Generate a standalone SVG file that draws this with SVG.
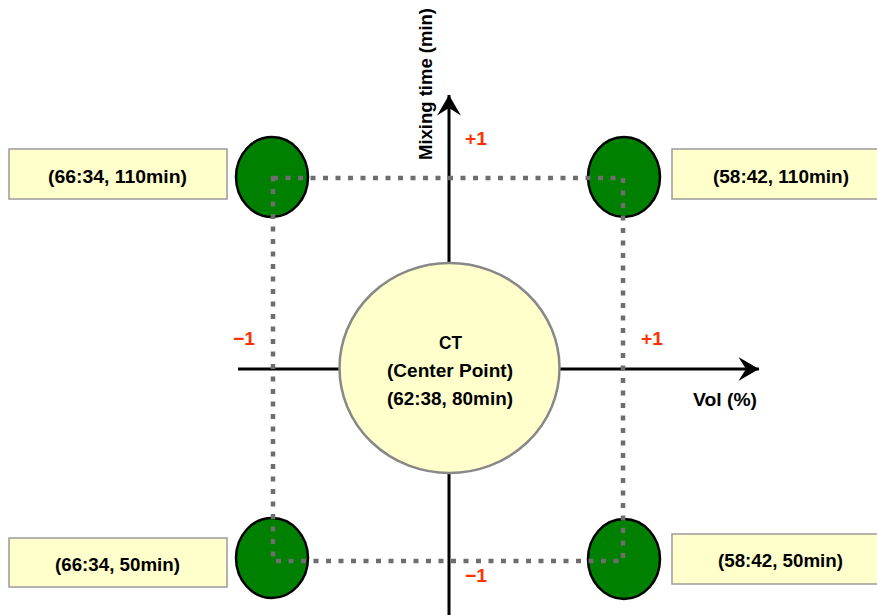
<svg xmlns="http://www.w3.org/2000/svg" width="877" height="615" viewBox="0 0 877 615">
  <style>
    .lbl { font-family: "Liberation Sans", Arial, sans-serif; font-weight: bold; font-size: 18px; fill: #000; }
    .lvl { font-family: "Liberation Sans", Arial, sans-serif; font-weight: bold; font-size: 19px; fill: #ff3300; }
    .box { fill: #ffffcc; stroke: #9a9a9a; stroke-width: 1.5; }
    .run { fill: #008000; stroke: #000; stroke-width: 2.5; }
    .axis { stroke: #000; stroke-width: 3; fill: none; }
  </style>
  <defs>
    <marker id="arrow" markerUnits="userSpaceOnUse" markerWidth="24" markerHeight="26" viewBox="-20 -12 22 24" refX="0" refY="0" orient="auto">
      <path d="M0,0 L-19,-11 L-12,0 L-19,11 Z" fill="#000"/>
    </marker>
  </defs>
  <rect width="877" height="615" fill="#fff"/>

  <!-- factor axes -->
  <g id="connectors">
    <line class="axis" x1="238" y1="369" x2="759" y2="369" marker-end="url(#arrow)"/>
    <line class="axis" x1="449" y1="615" x2="449" y2="95" marker-end="url(#arrow)"/>
  </g>

  <!-- axis titles and coded levels -->
  <text class="lbl" transform="translate(432,84) rotate(-90)" text-anchor="middle" textLength="152" lengthAdjust="spacingAndGlyphs">Mixing time (min)</text>
  <text class="lbl" x="693" y="406" textLength="64" lengthAdjust="spacingAndGlyphs">Vol (%)</text>
  <text class="lvl" x="465" y="145" textLength="22" lengthAdjust="spacingAndGlyphs">+1</text>
  <text class="lvl" x="465" y="582" textLength="22" lengthAdjust="spacingAndGlyphs">−1</text>
  <text class="lvl" x="233" y="345" textLength="22" lengthAdjust="spacingAndGlyphs">−1</text>
  <text class="lvl" x="641" y="345" textLength="22" lengthAdjust="spacingAndGlyphs">+1</text>

  <!-- center point -->
  <g id="center">
    <ellipse cx="449.5" cy="368" rx="110" ry="105" fill="#ffffcc" stroke="#888" stroke-width="2.5"/>
    <text class="lbl" x="439" y="349" textLength="23" lengthAdjust="spacingAndGlyphs">CT</text>
    <text class="lbl" x="387" y="377" textLength="126" lengthAdjust="spacingAndGlyphs">(Center Point)</text>
    <text class="lbl" x="387" y="405" textLength="126" lengthAdjust="spacingAndGlyphs">(62:38, 80min)</text>
  </g>

  <!-- factorial corner runs -->
  <g id="run-tl">
    <ellipse class="run" cx="272" cy="177" rx="36" ry="40"/>
  </g>
  <g id="run-tr">
    <ellipse class="run" cx="624" cy="177" rx="36" ry="40"/>
  </g>
  <g id="run-bl">
    <ellipse class="run" cx="272" cy="558" rx="36" ry="40"/>
  </g>
  <g id="run-br">
    <ellipse class="run" cx="624" cy="559" rx="36" ry="40"/>
  </g>

  <!-- design region outline -->
  <g id="design-square">
    <path d="M273,178 H623 V561 H273 Z" fill="none" stroke="#6e6e6e" stroke-width="4.5" stroke-dasharray="5 7.5"/>
  </g>

  <!-- corner labels -->
  <g id="label-tl">
    <rect class="box" x="9" y="149" width="218" height="50"/>
    <text class="lbl" x="48" y="183" textLength="139" lengthAdjust="spacingAndGlyphs">(66:34, 110min)</text>
  </g>
  <g id="label-tr">
    <rect class="box" x="672" y="149" width="215" height="50"/>
    <text class="lbl" x="713" y="183" textLength="136" lengthAdjust="spacingAndGlyphs">(58:42, 110min)</text>
  </g>
  <g id="label-bl">
    <rect class="box" x="9" y="538" width="218" height="49"/>
    <text class="lbl" x="55" y="571" textLength="125" lengthAdjust="spacingAndGlyphs">(66:34, 50min)</text>
  </g>
  <g id="label-br">
    <rect class="box" x="672" y="534" width="215" height="50"/>
    <text class="lbl" x="718" y="567" textLength="125" lengthAdjust="spacingAndGlyphs">(58:42, 50min)</text>
  </g>
</svg>
